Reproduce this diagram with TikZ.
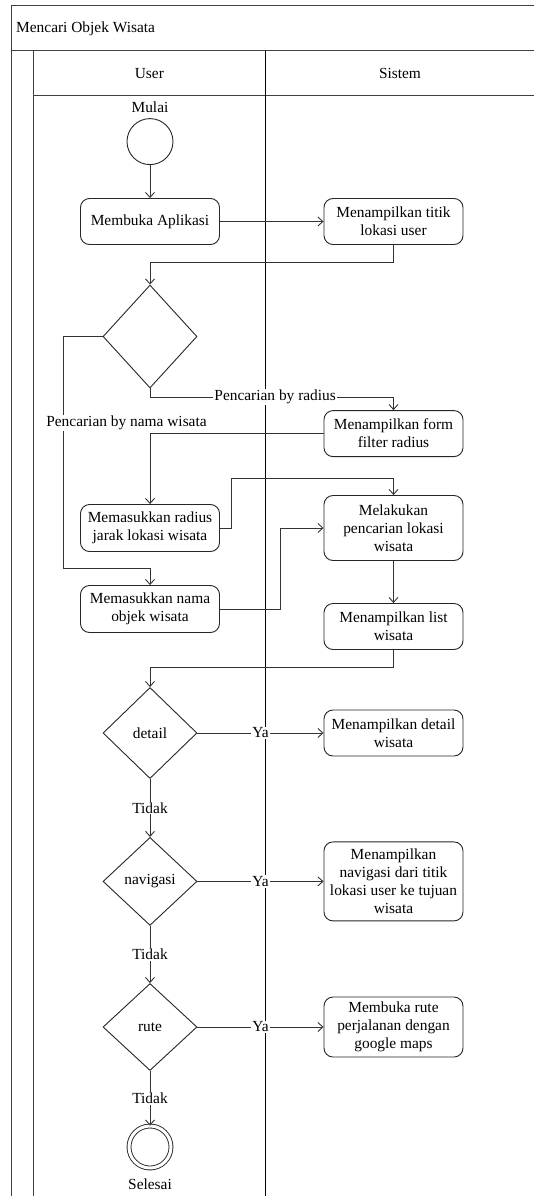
\documentclass[tikz,border=0pt]{standalone}
\usepackage{fontspec}
\setmainfont{Liberation Serif}
\usetikzlibrary{arrows.meta,shapes.geometric}
\begin{document}
\begin{tikzpicture}[x=1pt,y=-1pt,font=\fontsize{15.4}{18}\selectfont,
    garis/.style={draw=black!75,line width=1pt},
    aksi/.style={draw=black!85,line width=0.9pt,rounded corners=9pt,minimum width=139pt,align=center,inner sep=2pt},
    pilihan/.style={draw=black!85,line width=0.9pt,diamond,minimum width=94pt,inner sep=0pt},
    ket/.style={fill=white,inner sep=1pt},
    alur/.style={draw=black!80,line width=0.9pt,-{Straight Barb[length=5pt,width=9pt]}}]
  \useasboundingbox (0,0) rectangle (534,1196);
  \draw[garis] (534,6) -- (11,6) -- (11,1196);
  \draw[garis] (11,51) -- (534,51);
  \draw[garis] (33,51) -- (33,1196);
  \draw[garis] (33,96) -- (534,96);
  \draw[line width=1pt] (265.7,51) -- (265.7,1196);
  \path
    (16,28.5) node[anchor=west,inner sep=0pt] (judul) {Mencari Objek Wisata}
    (149.4,73.5) node (user) {User}
    (400,73.5) node (sistem) {Sistem}
    (150,106.8) node (teksmulai) {Mulai}
    (150,141.6) node[draw=black!85,line width=0.9pt,circle,minimum size=46pt] (mulai) {}
    (150,221.5) node[aksi,minimum height=46pt] (buka) {Membuka Aplikasi}
    (393.5,221.5) node[aksi,minimum height=46pt] (titik) {Menampilkan titik\\lokasi user}
    (150,336.5) node[pilihan,minimum height=103pt] (pilih) {}
    (393.5,433.6) node[aksi,minimum height=46pt] (form) {Menampilkan form\\filter radius}
    (150,528) node[aksi,minimum height=47pt] (radius) {Memasukkan radius\\jarak lokasi wisata}
    (393.5,528) node[aksi,minimum height=65pt] (cari) {Melakukan\\pencarian lokasi\\wisata}
    (150,609) node[aksi,minimum height=47pt] (nama) {Memasukkan nama\\objek wisata}
    (393.5,626.5) node[aksi,minimum height=46pt] (list) {Menampilkan list\\wisata}
    (150,733) node[pilihan,minimum height=91pt] (detail) {detail}
    (393.5,733) node[aksi,minimum height=46pt] (lihatdetail) {Menampilkan detail\\wisata}
    (150,881.4) node[pilihan,minimum height=88pt] (navigasi) {navigasi}
    (393.5,881.4) node[aksi,minimum height=79pt] (lihatnavigasi) {Menampilkan\\navigasi dari titik\\lokasi user ke tujuan\\wisata}
    (150,1027) node[pilihan,minimum height=87pt] (rute) {rute}
    (393.5,1027) node[aksi,minimum height=60pt] (bukarute) {Membuka rute\\perjalanan dengan\\google maps}
    (150,1147) node[draw=black!85,line width=0.9pt,circle,double,double distance=3pt,minimum size=42pt] (selesai) {}
    (150,1184.5) node (tekselesai) {Selesai};
  \begin{scope}[alur]
    \draw (mulai) -- (buka);
    \draw (buka) -- (titik);
    \draw (titik.south) -- ++(0,17) -| (pilih.north);
    \draw (pilih.west) -| (63,568.5) -| (nama.north);
    \draw (pilih.south) -- ++(0,8.8) -| node[ket,pos=0.257] {Pencarian by radius} (form.north);
    \draw (form.west) -| (radius.north);
    \draw (radius.east) -| (231.4,478.8) -| (cari.north);
    \draw (nama.east) -| (280.5,528) -- (cari.west);
    \draw (cari) -- (list);
    \draw (list.south) -- ++(0,17) -| (detail.north);
    \draw (detail) -- node[ket] {Ya} (lihatdetail);
    \draw (detail) -- node[ket] {Tidak} (navigasi);
    \draw (navigasi) -- node[ket] {Ya} (lihatnavigasi);
    \draw (navigasi) -- node[ket] {Tidak} (rute);
    \draw (rute) -- node[ket] {Ya} (bukarute);
    \draw (rute) -- node[ket] {Tidak} (selesai);
  \end{scope}
  \node[ket] (namawisata) at (126.5,423) {Pencarian by nama wisata};
\end{tikzpicture}
\end{document}
